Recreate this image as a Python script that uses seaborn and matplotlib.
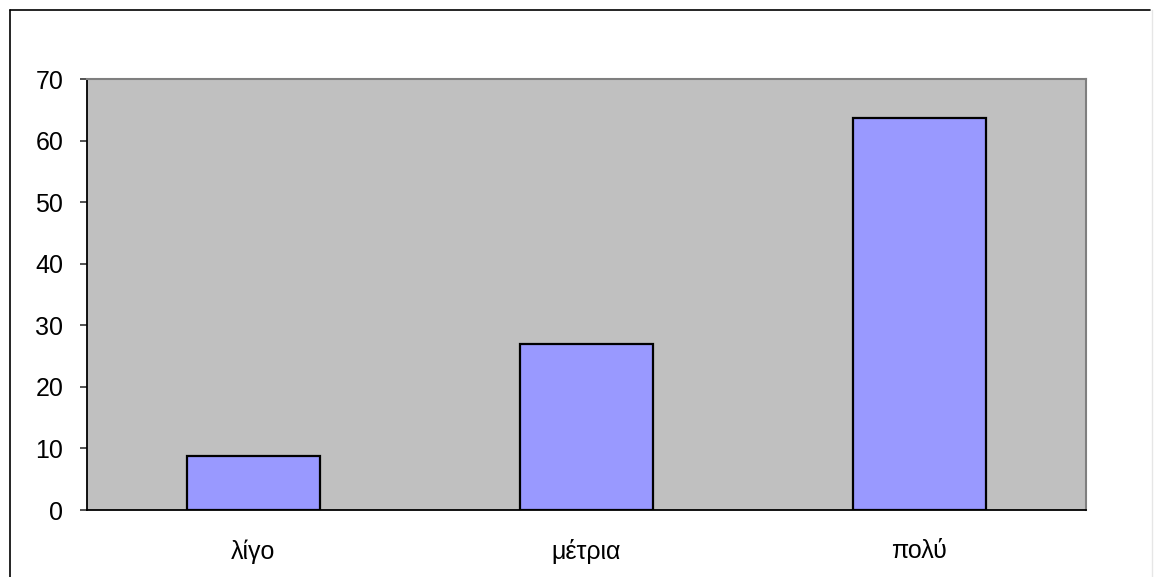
import matplotlib
matplotlib.use("Agg")
import matplotlib.pyplot as plt
from matplotlib.lines import Line2D
import seaborn as sns
import pandas as pd

# Data
categories = ["λίγο", "μέτρια", "πολύ"]
values = [8.7, 26.9, 63.7]
y_ticks = [0, 10, 20, 30, 40, 50, 60, 70]

df = pd.DataFrame({"category": categories, "value": values})

sns.set_style("white")
plt.rcParams["font.family"] = ["Liberation Sans", "DejaVu Sans"]

fig = plt.figure(figsize=(11.56, 5.77), dpi=100)
ax = fig.add_axes([87 / 1156, 1 - 510 / 577, (1086 - 87) / 1156, (510 - 79) / 577])
ax.set_facecolor("#c0c0c0")

sns.barplot(data=df, x="category", y="value", order=categories,
            color="#9999ff", saturation=1, width=0.4,
            edgecolor="black", linewidth=1.6, ax=ax, zorder=3)

ax.set_xlim(-0.5, len(categories) - 0.5)
ax.set_ylim(0, 70)
ax.set_yticks(y_ticks)
ax.set_yticklabels([str(t) for t in y_ticks])
ax.set_xlabel("")
ax.set_ylabel("")

# Category labels centred, tick marks at category boundaries
ax.set_xticks(range(len(categories)))
ax.set_xticklabels(categories)
ax.tick_params(axis="x", which="major", length=0, pad=21, labelsize=18, colors="black")
ax.set_xticks([i - 0.5 for i in range(len(categories) + 1)], minor=True)
ax.tick_params(axis="x", which="minor", length=6.5, width=1.2, color="#333333", direction="out")
ax.tick_params(axis="y", length=5, width=1.2, color="#333333", direction="out",
               pad=12, labelsize=18, labelcolor="black", left=True)

for side in ["left", "bottom"]:
    ax.spines[side].set_color("black")
    ax.spines[side].set_linewidth(1.3)
for side in ["top", "right"]:
    ax.spines[side].set_visible(True)
    ax.spines[side].set_color("#7f7f7f")
    ax.spines[side].set_linewidth(1.5)

# Chart-area frame
W, H = 1156, 577
fig.add_artist(Line2D([10 / W, 10 / W], [0, 1 - 10 / H], transform=fig.transFigure,
                      color="black", linewidth=1.2))
fig.add_artist(Line2D([10 / W, 1150 / W], [1 - 10 / H, 1 - 10 / H], transform=fig.transFigure,
                      color="black", linewidth=1.2))
fig.add_artist(Line2D([1152 / W, 1152 / W], [0, 1 - 10 / H], transform=fig.transFigure,
                      color="#e6e6e6", linewidth=1.0))

fig.savefig("out.png", dpi=100, facecolor="white")
